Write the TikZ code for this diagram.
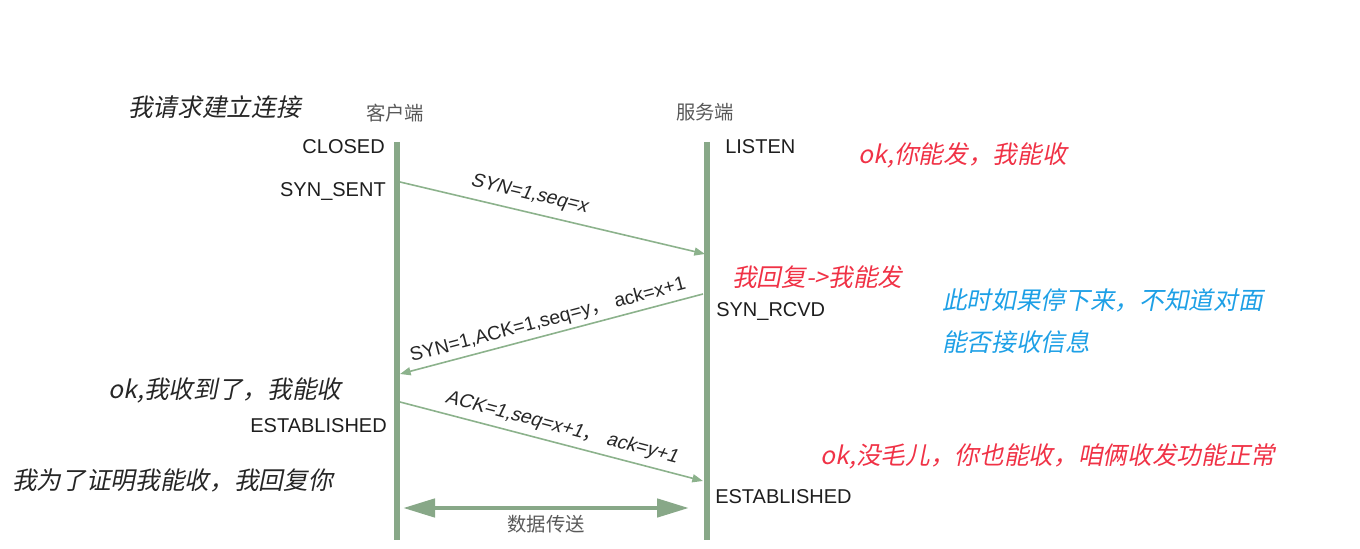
\documentclass[tikz,border=0pt]{standalone}
\usepackage{fontspec}
\usetikzlibrary{arrows.meta}
\setmainfont{Liberation Sans}
\newfontfamily\cjk{Noto Sans CJK SC}
\newfontfamily\cjkit[FakeSlant=0.2]{Noto Sans CJK SC}
\newfontfamily\latit[FakeSlant=0.2]{Liberation Sans}
\definecolor{lifegreen}{RGB}{136,168,136}
\definecolor{msggreen}{RGB}{140,178,140}
\definecolor{notered}{RGB}{240,50,70}
\definecolor{noteblue}{RGB}{30,160,230}
\definecolor{statetext}{RGB}{30,30,30}

\begin{document}
\begin{tikzpicture}[x=0.75pt, y=-0.75pt,
  lifeline/.style={lifegreen, line width=4pt},
  msg/.style={msggreen, line width=1.2pt, -{Triangle[length=8pt,width=6pt]}},
  datamsg/.style={lifegreen, line width=3.5pt,
    {Triangle[length=24pt,width=13.5pt]}-{Triangle[length=24pt,width=13.5pt]}},
  state/.style={statetext, inner sep=0pt, font=\fontsize{15}{18}\selectfont},
  endlabel/.style={black!65, inner sep=0pt, font=\cjk\fontsize{14.5}{17}\selectfont},
  msglabel/.style={black!85, inner sep=1pt, font=\fontsize{14.5}{17}\selectfont},
  note/.style={anchor=west, inner sep=0pt, font=\cjkit\fontsize{18.5}{22}\selectfont}]
  \useasboundingbox (0,0) rectangle (1360,549);

  % lifelines
  \coordinate (ctop) at (397,142);
  \coordinate (cbot) at (397,540);
  \coordinate (stop) at (707,142);
  \coordinate (sbot) at (707,540);
  \draw[lifeline] (ctop) -- (cbot);
  \draw[lifeline] (stop) -- (sbot);
  \node[endlabel] (client) at (395,113) {客户端};
  \node[endlabel] (server) at (705,112) {服务端};

  % states
  \node[state, anchor=east] (closed) at (385,147) {CLOSED};
  \node[state, anchor=east] (synSent) at (386,192) {SYN\_SENT};
  \node[state, anchor=east] (estC) at (387,426) {ESTABLISHED};
  \node[state, anchor=west] (listen) at (725,147) {LISTEN};
  \node[state, anchor=west] (synRcvd) at (716,312) {SYN\_RCVD};
  \node[state, anchor=west] (estS) at (715,497) {ESTABLISHED};

  % handshake
  \coordinate (synOut) at (400,182);
  \coordinate (synIn) at (705,254);
  \coordinate (ackOut) at (703,294);
  \coordinate (ackIn) at (400,374);
  \coordinate (finOut) at (400,402);
  \coordinate (finIn) at (703,481);
  \draw[msg] (synOut) -- (synIn)
    node[msglabel, sloped, above=5pt, pos=0.41, font=\latit\fontsize{14.5}{17}\selectfont] {SYN=1,seq=x};
  \draw[msg] (ackOut) -- (ackIn)
    node[msglabel, sloped, above=2pt, pos=0.5] {SYN=1,ACK=1,seq=y{\cjk ，} ack=x+1};
  \draw[msg] (finOut) -- (finIn)
    node[msglabel, sloped, above=3.5pt, pos=0.52, font=\latit\fontsize{14.5}{17}\selectfont] {ACK=1,seq=x+1{\cjk ，} ack=y+1};

  % data
  \coordinate (dataL) at (403,508);
  \coordinate (dataR) at (689,508);
  \draw[datamsg] (dataL) -- (dataR)
    node[endlabel, midway, below=4pt] (dataLabel) {数据传送};

  % notes
  \node[note, black!85] (ask) at (128,107) {我请求建立连接};
  \node[note, notered] (canSend) at (858,155) {ok,你能发，我能收};
  \node[note, notered] (reply) at (732,277) {我回复->我能发};
  \node[note, noteblue] (stopA) at (942,300) {此时如果停下来，不知道对面};
  \node[note, noteblue] (stopB) at (942,342) {能否接收信息};
  \node[note, black!85] (gotIt) at (108,390) {ok,我收到了，我能收};
  \node[note, black!85] (proof) at (12,480) {我为了证明我能收，我回复你};
  \node[note, notered] (allOk) at (820,456) {ok,没毛儿，你也能收，咱俩收发功能正常};
\end{tikzpicture}
\end{document}
